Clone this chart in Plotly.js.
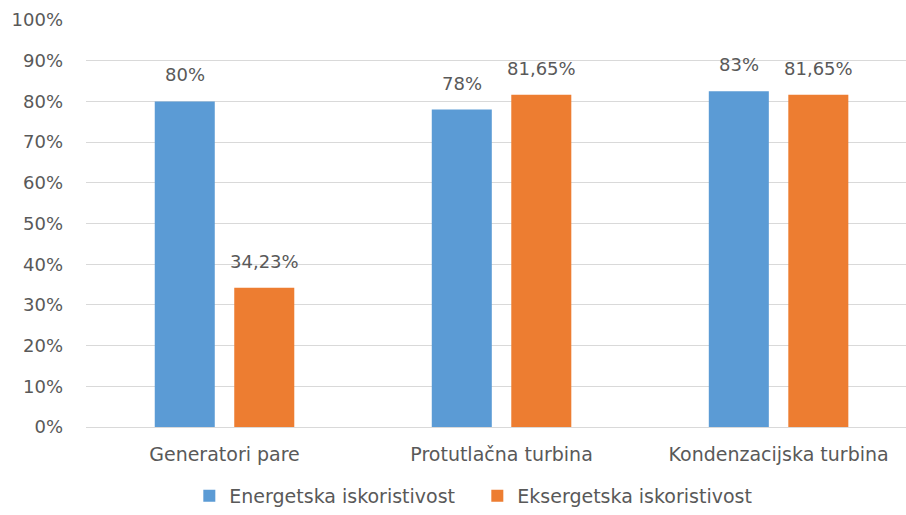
<!DOCTYPE html>
<html><head><meta charset="utf-8">
<script src="https://cdn.plot.ly/plotly-3.0.1.min.js"></script>
<style>html,body{margin:0;padding:0;background:#fff}#c{width:906px;height:515px}</style>
</head><body><div id="c"></div>
<script>
const categories = ["Generatori pare", "Protutlačna turbina", "Kondenzacijska turbina"];
const energetska = [80, 78, 82.5];
const energetskaLabels = ["80%", "78%", "83%"];
const eksergetska = [34.23, 81.65, 81.65];
const eksergetskaLabels = ["34,23%", "81,65%", "81,65%"];
const seriesNames = ["Energetska iskoristivost", "Eksergetska iskoristivost"];
const yTicks = [0,10,20,30,40,50,60,70,80,90,100];

const gray = "#595959";
const font = "'DejaVu Sans', sans-serif";
const fs = 18;
const fsBig = 19;
const xIdx = categories.map((c,i)=>i);
const annotations = [];
function addLabels(vals, labels, shift){
  vals.forEach((v,i)=>annotations.push({x:i+shift, y:v, xref:"x", yref:"y", text:labels[i], showarrow:false, yanchor:"bottom", yshift:14, font:{family:font,size:fs,color:gray}}));
}
addLabels(energetska, energetskaLabels, -0.1435);
addLabels(eksergetska, eksergetskaLabels, 0.1435);

const data = [
 {type:"bar", x:xIdx, y:energetska, name:seriesNames[0], marker:{color:"#5B9BD5"}, hoverinfo:"none"},
 {type:"bar", x:xIdx, y:eksergetska, name:seriesNames[1], marker:{color:"#ED7D31"}, hoverinfo:"none"}
];
const layout = {
 width:906, height:515,
 margin:{l:86, r:0, t:20, b:0},
 paper_bgcolor:"#fff", plot_bgcolor:"#fff",
 barmode:"group", bargap:0.426, bargroupgap:0.245,
 xaxis:{range:[-0.5,2.46], tickvals:xIdx, ticktext:categories, showgrid:false, zeroline:false, automargin:false,
   showline:true, linecolor:"#D9D9D9", linewidth:1, ticks:"", tickfont:{family:font,size:fsBig,color:gray}, ticklabelstandoff:10},
 yaxis:{range:[0,100], domain:[88/495,1], automargin:false, tickvals:yTicks, ticktext:yTicks.map(t=>t+"%"), showgrid:true, gridcolor:"#D9D9D9", gridwidth:1,
   zeroline:false, showline:false, ticks:"", tickfont:{family:font,size:fs,color:gray}, ticklabelstandoff:22},
 legend:{orientation:"h", x:0.126, xanchor:"left", y:0, yanchor:"bottom", font:{family:font,size:fsBig,color:gray},
   itemwidth:30, tracegroupgap:0, entrywidth:243, entrywidthmode:"pixels"},
 annotations:annotations,
 showlegend:true
};
Plotly.newPlot("c", data, layout, {displayModeBar:false, staticPlot:true});
</script></body></html>
